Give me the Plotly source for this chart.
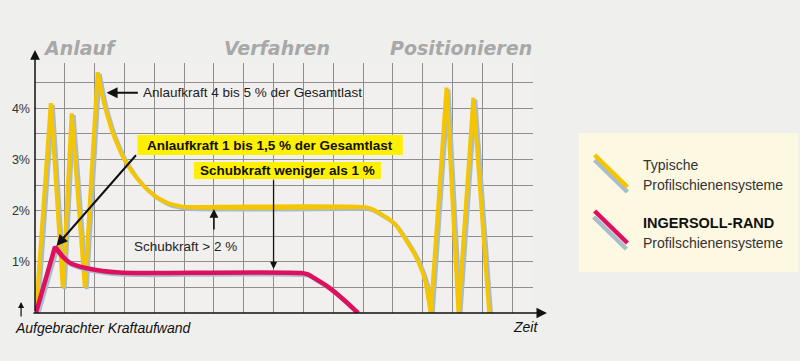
import plotly.graph_objects as go

# ---- data (time in grid units, force in % of total load) ----
time_typical = [0.03, 0.53, 0.93, 1.23, 1.67, 2.10, 2.20, 2.33, 2.47, 2.60, 2.77, 2.93, 3.13,
                3.37, 3.60, 3.83, 4.07, 4.30, 4.53, 4.77, 5.03, 11.03, 11.27, 11.50, 12.03,
                12.50, 12.83, 13.10, 13.27, 13.80, 14.20, 14.70, 15.23]
force_typical = [0.0, 4.1, 0.5, 3.9, 0.5, 4.7, 4.4, 4.06, 3.77, 3.53, 3.28, 3.07, 2.87,
                 2.67, 2.51, 2.38, 2.27, 2.19, 2.13, 2.10, 2.07, 2.07, 2.04, 1.97, 1.76,
                 1.37, 1.03, 0.6, 0.0, 4.4, 0.0, 4.2, 0.0]

time_ir = [0.03, 0.67, 0.93, 1.17, 1.43, 1.70, 2.27, 2.83, 3.60, 8.93, 9.17, 9.37, 9.83, 10.37, 10.83]
force_ir = [0.0, 1.29, 1.1, 0.98, 0.92, 0.88, 0.82, 0.79, 0.78, 0.78, 0.75, 0.68, 0.51, 0.25, 0.0]

ytick_vals = [0.5, 1, 1.5, 2, 2.5, 3, 3.5, 4, 4.5]
ytick_text = ["", "1%", "", "2%", "", "3%", "", "4%", ""]
xgrid_vals = list(range(1, 17))

phase_labels = ["Anlauf", "Verfahren", "Positionieren"]
phase_centers = [1.5, 8.1, 14.3]

legend_names = ["Typische", "Profilschienensysteme", "INGERSOLL-RAND", "Profilschienensysteme"]

# ---- layout geometry ----
W, H = 800, 361
L, T, R, B = 32, 63, 533, 313
FONT = "Liberation Sans, Arial, sans-serif"
HFONT = "DejaVu Sans, Verdana, sans-serif"
YELLOW = "#f4c500"
RED = "#de0f5c"
SHADOW = "#a9bccb"
GRID = "#8e8e8e"


def pxx(px):
    return (px - L) / (R - L)


def pxy(py):
    return (B - py) / (B - T)


fig = go.Figure()
dx, dy = 0.065, -0.035


def add_curve(xs, ys, segments, color, width):
    # shadows first, then coloured lines
    for pass_color, ox, oy in [(SHADOW, dx, dy), (color, 0.0, 0.0)]:
        for (i0, i1, shape) in segments:
            fig.add_trace(go.Scatter(
                x=[v + ox for v in xs[i0:i1 + 1]], y=[v + oy for v in ys[i0:i1 + 1]],
                mode="lines", line=dict(color=pass_color, width=width, shape=shape,
                                        smoothing=0.8 if shape == "spline" else None),
                hoverinfo="skip"))


n_t = len(time_typical)
add_curve(time_typical, force_typical,
          [(0, 6, "linear"), (5, 21, "spline"), (20, 28, "spline"), (27, n_t - 1, "linear")],
          YELLOW, 4)
add_curve(time_ir, force_ir, [(0, 2, "linear"), (1, len(time_ir) - 1, "spline")], RED, 4.5)

shapes = []
annotations = []

# yellow highlight boxes
shapes.append(dict(type="rect", xref="paper", yref="paper", x0=pxx(135), x1=pxx(402),
                   y0=pxy(155), y1=pxy(135), fillcolor="#fff000", line=dict(width=0), layer="above"))
shapes.append(dict(type="rect", xref="paper", yref="paper", x0=pxx(192), x1=pxx(380),
                   y0=pxy(179), y1=pxy(162), fillcolor="#fff000", line=dict(width=0), layer="above"))

# legend box
shapes.append(dict(type="rect", xref="paper", yref="paper", x0=pxx(579), x1=pxx(800),
                   y0=pxy(272), y1=pxy(133), fillcolor="#fcf8e2", line=dict(width=0)))
for (x0, y0, x1, y1, c) in [(595, 160, 628, 192, SHADOW), (595, 155, 628, 187, YELLOW),
                            (594, 217, 627, 249, SHADOW), (595, 211, 628, 243, RED)]:
    shapes.append(dict(type="line", xref="paper", yref="paper", x0=pxx(x0), y0=pxy(y0),
                       x1=pxx(x1), y1=pxy(y1), line=dict(color=c, width=4.5)))

# axes arrows
annotations.append(dict(xref="paper", yref="paper", x=pxx(547), y=0, ax=-(547 - L), ay=0,
                        text="", showarrow=True, arrowhead=2, arrowsize=1.3, arrowwidth=1.6,
                        arrowcolor="#111"))
annotations.append(dict(xref="paper", yref="paper", x=0, y=pxy(50), ax=0, ay=(B - 50),
                        text="", showarrow=True, arrowhead=2, arrowsize=1.3, arrowwidth=1.5,
                        arrowcolor="#111"))
annotations.append(dict(xref="paper", yref="paper", x=pxx(18), y=pxy(302), ax=0, ay=16,
                        text="", showarrow=True, arrowhead=2, arrowsize=1, arrowwidth=1.2,
                        arrowcolor="#111"))

# callout arrows (data coords)
for (x, y, axv, ayv, w) in [(2.4, 4.30, 3.5, 4.30, 2.0), (0.72, 1.31, 3.43, 3.11, 2.0),
                            (8.0, 0.86, 8.0, 2.62, 1.3), (6.0, 2.03, 6.0, 1.60, 1.6)]:
    annotations.append(dict(x=x, y=y, ax=axv, ay=ayv, xref="x", yref="y", axref="x", ayref="y",
                            text="", showarrow=True, arrowhead=2, arrowsize=1.1, arrowwidth=w,
                            arrowcolor="#111"))


def txt(x, y, text, size, color, xref="paper", yref="paper", xanchor="center", family=FONT):
    annotations.append(dict(x=x, y=y, xref=xref, yref=yref, xanchor=xanchor, yanchor="middle",
                            text=text, showarrow=False,
                            font=dict(family=family, size=size, color=color)))


txt(3.57, 4.30, "Anlaufkraft 4 bis 5 % der Gesamtlast", 13.5, "#222", "x", "y", "left")
txt(pxx(268.5), pxy(145), "<b>Anlaufkraft 1 bis 1,5 % der Gesamtlast</b>", 13.5, "#111")
txt(pxx(286), pxy(170.5), "<b>Schubkraft weniger als 1 %</b>", 13.5, "#111")
txt(5.03, 1.29, "Schubkraft &gt; 2 %", 13.5, "#222", "x", "y")

for lab, cx in zip(phase_labels, phase_centers):
    txt(cx, pxy(48), "<b><i>%s</i></b>" % lab, 19, "#a8a8a8", "x", "paper", family=HFONT)

txt(pxx(10), pxy(328), "<i>Aufgebrachter Kraftaufwand</i>", 14, "#111", xanchor="left")
txt(pxx(511), pxy(327), "<i>Zeit</i>", 14, "#111", xanchor="left")

legend_y = [165, 185, 223, 243]
for name, ly in zip(legend_names, legend_y):
    if name == "INGERSOLL-RAND":
        txt(pxx(642), pxy(ly), "<b>%s</b>" % name, 14.5, "#111", xanchor="left")
    else:
        txt(pxx(642), pxy(ly), name, 14, "#333", xanchor="left")

fig.update_layout(
    width=W, height=H,
    margin=dict(l=L, r=W - R, t=T, b=H - B, pad=0),
    paper_bgcolor="#efefed", plot_bgcolor="#f1f0ee",
    showlegend=False,
    shapes=shapes, annotations=annotations,
    xaxis=dict(range=[0, 16.7], tickvals=xgrid_vals, showticklabels=False, ticks="",
               showgrid=True, gridcolor=GRID, gridwidth=1, zeroline=False, showline=False,
               fixedrange=True),
    yaxis=dict(range=[0, (B - T) / 51.2], tickvals=ytick_vals, ticktext=ytick_text, ticks="",
               showgrid=True, gridcolor=GRID, gridwidth=1, zeroline=False, showline=False,
               tickfont=dict(family=FONT, size=12.5, color="#333"), ticklabelstandoff=4,
               fixedrange=True),
)

fig.write_html("out.html")
